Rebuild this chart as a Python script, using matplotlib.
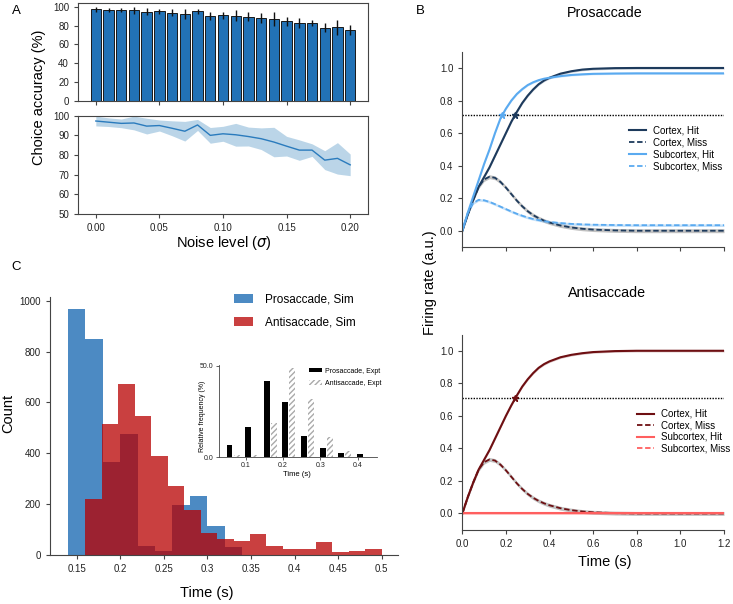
import numpy as np
import matplotlib.pyplot as plt
from matplotlib.ticker import FormatStrFormatter

plt.rcParams['font.family'] = ['Liberation Sans', 'DejaVu Sans']
plt.rcParams['mathtext.fontset'] = 'dejavusans'
plt.rcParams['axes.edgecolor'] = '#444444'
plt.rcParams['axes.linewidth'] = 0.8
plt.rcParams['xtick.color'] = '#444444'
plt.rcParams['ytick.color'] = '#444444'
plt.rcParams['xtick.labelcolor'] = '#222222'
plt.rcParams['ytick.labelcolor'] = '#222222'
plt.rcParams['xtick.major.size'] = 3
plt.rcParams['ytick.major.size'] = 3
plt.rcParams['xtick.labelsize'] = 7
plt.rcParams['ytick.labelsize'] = 7

# --- A: choice accuracy vs noise ---
noise = [0.00, 0.01, 0.02, 0.03, 0.04, 0.05, 0.06, 0.07, 0.08, 0.09, 0.10,
         0.11, 0.12, 0.13, 0.14, 0.15, 0.16, 0.17, 0.18, 0.19, 0.20]
acc_mean = [97.3, 96.7, 96.1, 96.3, 94.7, 95.0, 93.6, 92.1, 95.3, 90.0, 90.8,
            90.3, 89.4, 88.3, 86.6, 84.5, 82.5, 82.5, 77.4, 78.3, 75.0]
acc_err = [2.5, 2.2, 2.2, 3.5, 4.0, 2.8, 3.8, 5.0, 2.8, 4.0, 3.8,
           5.8, 4.8, 5.5, 7.5, 5.0, 5.2, 3.2, 4.8, 8.0, 5.5]

# --- B: firing rates ---
t = [0, 0.025, 0.05, 0.075, 0.1, 0.125, 0.15, 0.175, 0.2, 0.225, 0.25, 0.275,
     0.3, 0.325, 0.35, 0.375, 0.4, 0.45, 0.5, 0.55, 0.6, 0.7, 0.8, 0.9, 1.0, 1.2]
pro_ctx_hit = [0, 0.10, 0.19, 0.27, 0.33, 0.39, 0.46, 0.53, 0.60, 0.67, 0.73, 0.785,
               0.83, 0.868, 0.90, 0.923, 0.94, 0.965, 0.98, 0.99, 0.995, 0.999, 1.0, 1.0, 1.0, 1.0]
pro_ctx_miss = [0, 0.10, 0.19, 0.27, 0.315, 0.332, 0.325, 0.30, 0.265, 0.225, 0.185, 0.15,
                0.12, 0.096, 0.077, 0.062, 0.05, 0.032, 0.02, 0.012, 0.007, 0.002, 0.0, 0.0, 0.0, 0.0]
pro_sub_hit = [0, 0.11, 0.21, 0.31, 0.41, 0.50, 0.60, 0.69, 0.75, 0.80, 0.84, 0.87,
               0.895, 0.912, 0.925, 0.934, 0.94, 0.95, 0.957, 0.961, 0.964, 0.966, 0.967, 0.967, 0.967, 0.967]
pro_sub_miss = [0, 0.11, 0.17, 0.19, 0.187, 0.177, 0.163, 0.148, 0.133, 0.118, 0.104, 0.092,
                0.081, 0.072, 0.065, 0.059, 0.054, 0.047, 0.042, 0.039, 0.037, 0.035, 0.034, 0.034, 0.034, 0.034]
anti_ctx_hit = [0, 0.10, 0.19, 0.27, 0.33, 0.39, 0.46, 0.53, 0.60, 0.665, 0.725, 0.78,
                0.825, 0.863, 0.895, 0.918, 0.935, 0.96, 0.975, 0.985, 0.992, 0.998, 1.0, 1.0, 1.0, 1.0]
anti_ctx_miss = [0, 0.10, 0.19, 0.27, 0.315, 0.332, 0.325, 0.30, 0.265, 0.225, 0.185, 0.15,
                 0.12, 0.096, 0.077, 0.062, 0.05, 0.032, 0.02, 0.012, 0.007, 0.002, 0.0, 0.0, 0.0, 0.0]
anti_sub_hit = [0.0, 0.0, 0.0, 0.0, 0.0, 0.0, 0.0, 0.0, 0.0, 0.0, 0.0, 0.0, 0.0,
                0.0, 0.0, 0.0, 0.0, 0.0, 0.0, 0.0, 0.0, 0.0, 0.0, 0.0, 0.0, 0.0]
anti_sub_miss = [0.0, 0.0, 0.0, 0.0, 0.0, 0.0, 0.0, 0.0, 0.0, 0.0, 0.0, 0.0, 0.0,
                 0.0, 0.0, 0.0, 0.0, 0.0, 0.0, 0.0, 0.0, 0.0, 0.0, 0.0, 0.0, 0.0]
threshold = 0.71
pro_cross_t = [0.242, 0.182]
anti_cross_t = [0.243]
labels_B = ['Cortex, Hit', 'Cortex, Miss', 'Subcortex, Hit', 'Subcortex, Miss']

# --- C: reaction time histograms ---
pro_counts = [967, 849, 365, 475, 37, 16, 197, 232, 114, 30]
anti_counts = [219, 514, 673, 547, 390, 273, 177, 85, 63, 55, 83, 37, 24, 24, 50, 10, 16, 25]
pro_edges = np.linspace(0.14, 0.34, len(pro_counts) + 1)
anti_edges = np.linspace(0.16, 0.50, len(anti_counts) + 1)

# inset: experimental data
expt_t = [0.05, 0.10, 0.15, 0.20, 0.25, 0.30, 0.35, 0.40]
expt_pro = [6.6, 16.5, 41.8, 30.0, 11.6, 5.2, 2.2, 1.9]
expt_anti = [1.1, 0.9, 18.5, 48.9, 31.8, 11.0, 3.2, 0.0]

W, H = 733, 604
fig = plt.figure(figsize=(W / 100, H / 100), dpi=100)


def box(l, tp, r, b):
    return [l / W, 1 - b / H, (r - l) / W, (b - tp) / H]


def ftext(x, y, s, **kw):
    fig.text(x / W, 1 - y / H, s, ha='center', va='center', **kw)


# ---------- A ----------
blue = '#1f77b4'
axA1 = fig.add_axes(box(78, 3, 368, 100.7))
axA1.bar(noise, acc_mean, width=0.0082, color='#2272b6', edgecolor='#1a1a1a', linewidth=0.7)
axA1.errorbar(noise, acc_mean, yerr=acc_err, fmt='none', ecolor='#111111', elinewidth=1.0)
axA1.set_xlim(-0.014, 0.214)
axA1.set_ylim(0, 104)
axA1.set_yticks([0, 20, 40, 60, 80, 100])
axA1.set_xticks([0, 0.05, 0.1, 0.15, 0.2])
axA1.set_xticklabels([])

axA2 = fig.add_axes(box(78, 115.7, 368, 214))
lo = np.array(acc_mean) - np.array(acc_err)
hi = np.array(acc_mean) + np.array(acc_err)
axA2.fill_between(noise, lo, hi, color=blue, alpha=0.3, linewidth=0)
axA2.plot(noise, acc_mean, color='#2a7bbd', linewidth=1.0)
axA2.set_xlim(-0.014, 0.214)
axA2.set_ylim(50, 100)
axA2.set_yticks([50, 60, 70, 80, 90, 100])
axA2.set_xticks([0, 0.05, 0.1, 0.15, 0.2])
axA2.xaxis.set_major_formatter(FormatStrFormatter('%.2f'))

ftext(16, 11, 'A', fontsize=9.5)
ftext(39, 97, 'Choice accuracy (%)', fontsize=10.5, rotation=90)
ftext(224, 243, r'Noise level ($\sigma$)', fontsize=10.5)


# ---------- B ----------
def draw_rates(ax, ctx_hit, ctx_miss, sub_hit, sub_miss, dark, light, cross_t, cross_cols):
    t_arr = np.array(t)
    for y, col, a, w in [(ctx_hit, dark, 0.25, 0.007), (ctx_miss, '#777777', 0.45, 0.012),
                         (sub_hit, light, 0.25, 0.006), (sub_miss, light, 0.35, 0.008)]:
        y = np.array(y)
        ax.fill_between(t_arr, y - w, y + w, color=col, alpha=a, linewidth=0)
    ax.plot(t, ctx_hit, color=dark, lw=1.5, label=labels_B[0])
    ax.plot(t, ctx_miss, color=dark, lw=1.3, ls=(0, (3, 1.5)), label=labels_B[1])
    ax.plot(t, sub_hit, color=light, lw=1.5, label=labels_B[2])
    ax.plot(t, sub_miss, color=light, lw=1.3, ls=(0, (3, 1.5)), label=labels_B[3])
    ax.axhline(threshold, color='black', ls=(0, (1, 1)), lw=1.0)
    for ct, cc in zip(cross_t, cross_cols):
        ax.plot([ct], [threshold], marker='*', ms=5, color=cc, mec=cc)
    ax.set_xlim(0, 1.2)
    ax.set_ylim(-0.1, 1.1)
    ax.set_yticks([0, 0.2, 0.4, 0.6, 0.8, 1.0])
    ax.set_xticks([0, 0.2, 0.4, 0.6, 0.8, 1.0, 1.2])
    ax.yaxis.set_major_formatter(FormatStrFormatter('%.1f'))
    ax.xaxis.set_major_formatter(FormatStrFormatter('%.1f'))
    ax.spines['top'].set_visible(False)
    ax.spines['right'].set_visible(False)


navy, lblue = '#1d3a5c', '#5aaaf0'
dred, lred = '#6e0f12', '#ff5f5f'

axB1 = fig.add_axes(box(462.3, 51.7, 724, 247))
draw_rates(axB1, pro_ctx_hit, pro_ctx_miss, pro_sub_hit, pro_sub_miss, navy, lblue,
           pro_cross_t, [navy, lblue])
axB1.set_xticklabels([])
axB1.legend(loc='upper left', bbox_to_anchor=(629.3 / W, 1 - 125.5 / H),
            bbox_transform=fig.transFigure, frameon=False, fontsize=7,
            handlelength=1.75, handletextpad=0.7, labelspacing=0.2,
            borderpad=0, borderaxespad=0)

axB2 = fig.add_axes(box(462.3, 334.5, 724, 529.7))
draw_rates(axB2, anti_ctx_hit, anti_ctx_miss, anti_sub_hit, anti_sub_miss, dred, lred,
           anti_cross_t, [dred])
axB2.legend(loc='upper left', bbox_to_anchor=(636.7 / W, 1 - 409 / H),
            bbox_transform=fig.transFigure, frameon=False, fontsize=7,
            handlelength=1.75, handletextpad=0.7, labelspacing=0.15,
            borderpad=0, borderaxespad=0)

ftext(420, 11, 'B', fontsize=9.5)
ftext(605, 13, 'Prosaccade', fontsize=10.3)
ftext(607, 293, 'Antisaccade', fontsize=10.3)
ftext(430, 283, 'Firing rate (a.u.)', fontsize=10.5, rotation=90)
ftext(605, 562, 'Time (s)', fontsize=10.5)

# ---------- C ----------
axC = fig.add_axes(box(50, 297, 398, 555))
axC.hist(pro_edges[:-1], bins=pro_edges, weights=pro_counts, histtype='stepfilled',
         color='#1f6db5', alpha=0.8, label='Prosaccade, Sim')
axC.hist(anti_edges[:-1], bins=anti_edges, weights=anti_counts, histtype='stepfilled',
         color='#b80000', alpha=0.75, label='Antisaccade, Sim')
axC.set_xlim(0.1195, 0.5187)
axC.set_ylim(0, 1015)
axC.set_xticks([0.15, 0.2, 0.25, 0.3, 0.35, 0.4, 0.45, 0.5])
axC.xaxis.set_major_formatter(FormatStrFormatter('%g'))
axC.set_yticks([0, 200, 400, 600, 800, 1000])
axC.spines['top'].set_visible(False)
axC.spines['right'].set_visible(False)
axC.legend(loc='upper left', bbox_to_anchor=(234 / W, 1 - 293.5 / H),
           bbox_transform=fig.transFigure, frameon=False, fontsize=8.5,
           handlelength=1.6, handleheight=0.8, handletextpad=1.0, labelspacing=0.9,
           borderpad=0, borderaxespad=0)

ftext(16.5, 266.5, 'C', fontsize=9.5)
ftext(8, 413, 'Count', fontsize=10.5, rotation=90)
ftext(207, 593, 'Time (s)', fontsize=10.5)

# inset
axIn = fig.add_axes(box(218.5, 365, 376.7, 457))
bw = 0.016
axIn.bar(np.array(expt_t) + 0.006, expt_pro, width=bw, color='black', label='Prosaccade, Expt')
axIn.bar(np.array(expt_t) + 0.025, expt_anti, width=bw, color='white', edgecolor='#aaaaaa',
         hatch='//////', linewidth=0, label='Antisaccade, Expt')
axIn.set_xlim(0.0265, 0.451)
axIn.set_ylim(0, 50.5)
axIn.set_yticks([0, 50])
axIn.yaxis.set_major_formatter(FormatStrFormatter('%.1f'))
axIn.set_xticks([0.1, 0.2, 0.3, 0.4])
axIn.tick_params(labelsize=5, length=2, width=0.6, pad=1.5)
for s in ['top', 'right']:
    axIn.spines[s].set_visible(False)
for s in ['left', 'bottom']:
    axIn.spines[s].set_linewidth(0.6)
axIn.legend(loc='upper left', bbox_to_anchor=(309 / W, 1 - 367.5 / H),
            bbox_transform=fig.transFigure, frameon=False, fontsize=5,
            handlelength=1.85, handleheight=0.6, handletextpad=0.5, labelspacing=0.8,
            borderpad=0, borderaxespad=0)
ftext(297, 474, 'Time (s)', fontsize=5.5)
ftext(202, 416, 'Relative frequency (%)', fontsize=5, rotation=90)

fig.savefig('out.png', dpi=100)
